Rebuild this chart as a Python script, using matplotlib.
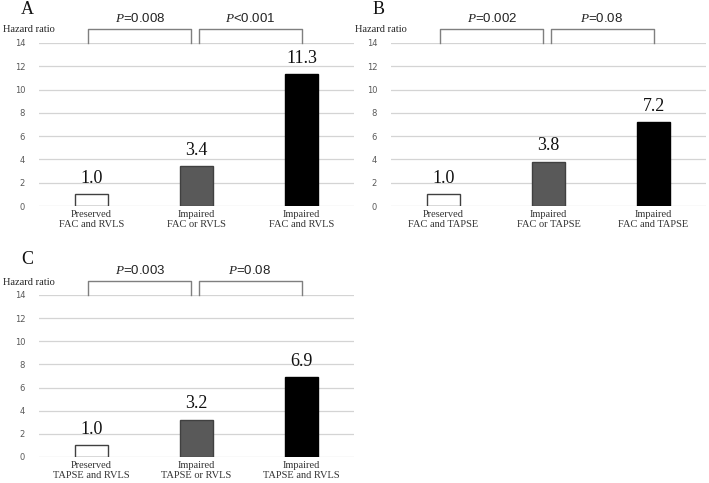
import matplotlib.pyplot as plt

plt.rcParams['mathtext.fontset'] = 'custom'
plt.rcParams['mathtext.it'] = 'Liberation Serif:italic'
plt.rcParams['mathtext.rm'] = 'Liberation Serif'

# data
panels = ["A", "B", "C"]
hazard = {
    "A": [1.0, 3.4, 11.3],
    "B": [1.0, 3.8, 7.2],
    "C": [1.0, 3.2, 6.9],
}
groups = {
    "A": ["Preserved\nFAC and RVLS", "Impaired\nFAC or RVLS", "Impaired\nFAC and RVLS"],
    "B": ["Preserved\nFAC and TAPSE", "Impaired\nFAC or TAPSE", "Impaired\nFAC and TAPSE"],
    "C": ["Preserved\nTAPSE and RVLS", "Impaired\nTAPSE or RVLS", "Impaired\nTAPSE and RVLS"],
}
pvals = {
    "A": ["=0.008", "<0.001"],
    "B": ["=0.002", "=0.08"],
    "C": ["=0.003", "=0.08"],
}
yticks = [0, 2, 4, 6, 8, 10, 12, 14]

bar_colors = ["white", "#595959", "black"]
edge_colors = ["#404040", "#404040", "#000000"]

W, H = 709, 483
fig = plt.figure(figsize=(W / 100, H / 100), dpi=100)

# axes boxes in pixels: left, top(y=14), right, bottom(y=0)
boxes = {
    "A": (39, 43, 354, 206),
    "B": (391, 43, 706, 206),
    "C": (39, 295, 354, 457),
}
letters = {"A": (27, 9), "B": (379, 9), "C": (27, 260)}

for p in panels:
    l, t, r, b = boxes[p]
    ax = fig.add_axes([l / W, (H - b) / H, (r - l) / W, (b - t) / H])
    x = range(3)
    ax.bar(x, hazard[p], width=0.31, color=bar_colors,
           edgecolor=edge_colors, linewidth=1, zorder=3)
    for xi, v in zip(x, hazard[p]):
        ax.text(xi, v + 1.0, f"{v:.1f}", ha="center", va="baseline",
                family="Liberation Serif", fontsize=13, color="#111111")
    ax.set_xlim(-0.5, 2.5)
    ax.set_ylim(0, 14)
    ax.set_yticks(yticks)
    ax.yaxis.grid(True, color="#d4d4d4", linewidth=0.9, zorder=0)
    ax.set_axisbelow(True)
    for s in ax.spines.values():
        s.set_visible(False)
    ax.tick_params(axis="y", length=0, pad=10, labelsize=6, labelcolor="#595959")
    ax.set_xticks(list(x))
    ax.set_xticklabels(groups[p], family="Liberation Serif", fontsize=7.5,
                       color="#333333", linespacing=1.05)
    ax.tick_params(axis="x", length=0, pad=3)

    # significance brackets
    spans = [(-0.03, 0.95), (1.02, 2.0)]
    for (x0, x1), pv in zip(spans, pvals[p]):
        ax.plot([x0, x0, x1, x1], [14, 15.2, 15.2, 14], color="#7f7f7f",
                linewidth=1, clip_on=False)
        ax.text((x0 + x1) / 2, 16.1, r"$\mathit{P}$" + pv, ha="center",
                va="center", fontsize=9.5, family="Liberation Sans",
                color="#222222", clip_on=False)

    ax.text(-0.114, 1.08, "Hazard ratio", transform=ax.transAxes,
            ha="left", va="center", family="Liberation Serif", fontsize=7.5,
            color="#222222")

    lx, ly = letters[p]
    fig.text(lx / W, 1 - ly / H, p, ha="center", va="center",
             family="Liberation Serif", fontsize=13, color="#111111")

fig.savefig("out.png", dpi=100)
